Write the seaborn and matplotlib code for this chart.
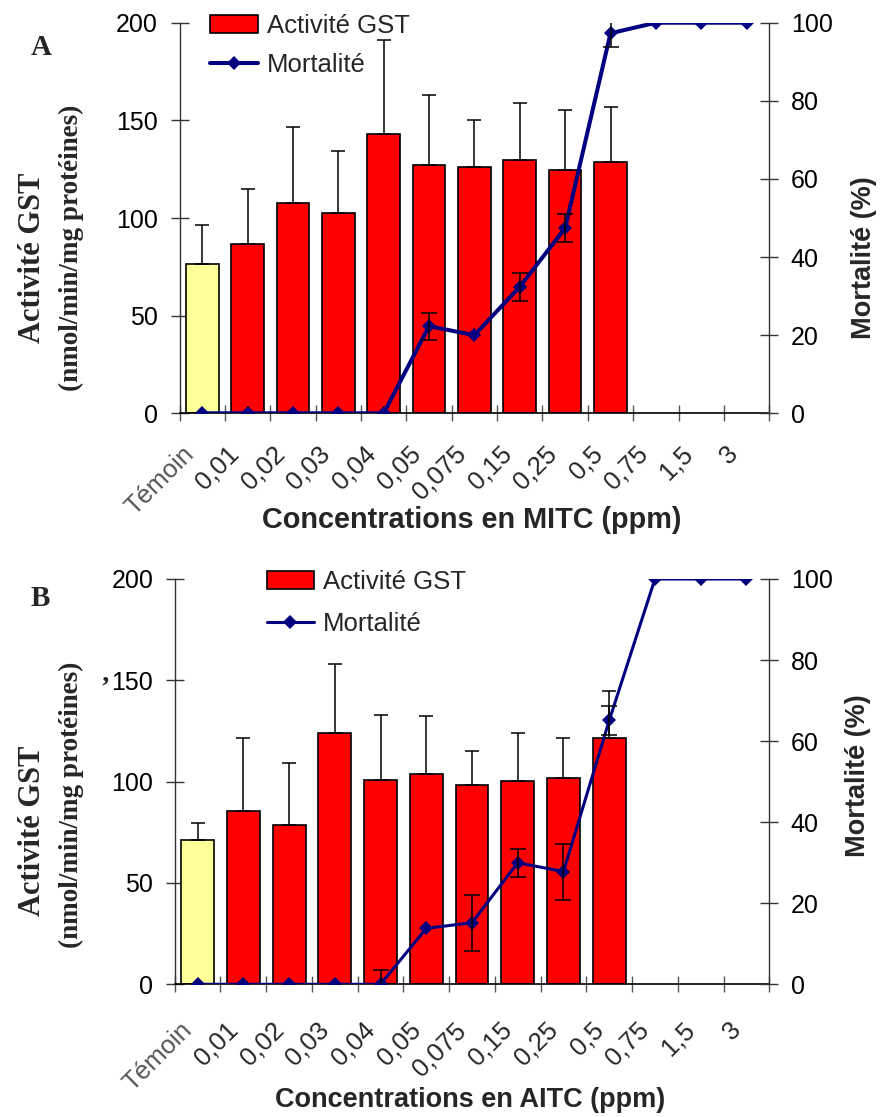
import numpy as np
import pandas as pd
import matplotlib
matplotlib.use('Agg')
import matplotlib.pyplot as plt
import matplotlib.transforms as mtrans
from matplotlib.patches import Patch
from matplotlib.lines import Line2D
import seaborn as sns

# ---------------- data ----------------
categories = ['Témoin', '0,01', '0,02', '0,03', '0,04', '0,05', '0,075',
              '0,15', '0,25', '0,5', '0,75', '1,5', '3']
bar_categories = categories[:10]

gst_mitc = [76.3, 86.8, 107.8, 102.7, 142.9, 127.3, 126.3, 129.7, 124.6, 128.9]
gst_mitc_err = [20.1, 28.2, 38.6, 31.4, 48.2, 35.8, 23.7, 29.0, 30.7, 28.1]
mort_mitc = [0, 0, 0, 0, 0, 22.3, 20.0, 32.4, 47.4, 97.3, 100, 100, 100]
mort_mitc_err = [0, 0, 0, 0, 0, 3.5, 0, 3.6, 3.5, 3.5, 0, 0, 0]

gst_aitc = [71.2, 85.6, 78.6, 124.1, 100.8, 103.6, 98.3, 100.1, 101.8, 121.4]
gst_aitc_err = [8.2, 35.8, 30.4, 33.9, 32.2, 28.8, 16.8, 24.0, 19.6, 23.2]
mort_aitc = [0, 0, 0, 0, 0, 13.8, 15.2, 30.0, 27.8, 65.1, 100, 100, 100]
mort_aitc_err = [0, 0, 0, 0, 3.5, 0, 6.9, 3.5, 6.9, 3.5, 0, 0, 0]

left_ticks = [0, 50, 100, 150, 200]
right_ticks = [0, 20, 40, 60, 80, 100]

RED = '#FF0000'
YELLOW = '#FFFF99'
NAVY = '#000080'

sns.set_theme(style='white')
plt.rcParams['font.family'] = ['Liberation Sans', 'DejaVu Sans']

W, H = 882, 1117
fig = plt.figure(figsize=(W / 100, H / 100), dpi=100)


def fx(px):
    return px / W


def fy(py):
    return 1 - py / H


def panel(rect, gst, gst_err, mort, mort_err, xtitle, letter, cfg):
    l, t, r, b = rect
    ax = fig.add_axes([fx(l), fy(b), fx(r - l), (b - t) / H])
    df = pd.DataFrame({'cat': bar_categories, 'gst': gst})
    palette = {c: (YELLOW if i == 0 else RED) for i, c in enumerate(bar_categories)}
    sns.barplot(data=df, x='cat', y='gst', hue='cat', palette=palette,
                order=categories, hue_order=bar_categories, dodge=False,
                width=0.72, edgecolor='black', linewidth=1.2, saturation=1,
                errorbar=None, legend=False, ax=ax, zorder=2)
    xb = np.arange(len(gst))
    ax.errorbar(xb, gst, yerr=[np.zeros(len(gst)), gst_err], fmt='none',
                ecolor='black', elinewidth=1.1, capsize=5, capthick=1.1, zorder=3)

    ax2 = ax.twinx()
    sns.pointplot(x=categories, y=mort, order=categories, color=NAVY,
                  markers='D', linestyles='-', errorbar=None, ax=ax2)
    for ln in ax2.lines:
        ln.set_linewidth(cfg['lw'])
        ln.set_markersize(cfg['ms'])
        ln.set_markeredgewidth(0)
        ln.set_zorder(3)
    xm = np.arange(len(mort))
    me = np.array(mort_err)
    sel = me > 0
    ax2.errorbar(xm[sel], np.array(mort)[sel], yerr=me[sel], fmt='none',
                 ecolor='black', elinewidth=1.1, capsize=5.5, capthick=1.1, zorder=4)

    for a in (ax, ax2):
        a.set_xlabel('')
        a.set_ylabel('')
        a.grid(False)
    ax.set_ylim(0, 200)
    ax2.set_ylim(0, 100)
    ax.set_xlim(-0.5, len(categories) - 0.5)

    # spines
    ax.spines['top'].set_visible(False)
    ax.spines['right'].set_visible(False)
    ax2.spines['top'].set_visible(False)
    ax2.spines['left'].set_visible(False)
    ax2.spines['bottom'].set_visible(False)
    ax.spines['left'].set_color('#333333')
    ax.spines['left'].set_linewidth(1)
    ax2.spines['right'].set_color('#333333')
    ax2.spines['right'].set_linewidth(1)
    ax.spines['bottom'].set_color('black')
    ax.spines['bottom'].set_linewidth(1.2)

    # y ticks
    ax.set_yticks(left_ticks)
    ax.set_yticklabels([str(v) for v in left_ticks])
    ax2.set_yticks(right_ticks)
    ax2.set_yticklabels([str(v) for v in right_ticks])
    ax.tick_params(axis='y', left=True, direction='inout', length=13, width=1,
                   color='#333333', labelsize=18, pad=9, labelcolor='black')
    ax2.tick_params(axis='y', right=True, direction='inout', length=13, width=1,
                    color='#333333', labelsize=18, pad=9, labelcolor='black')

    # x ticks: marks at boundaries, labels at centres
    ax.set_xticks(np.arange(-0.5, len(categories), 1))
    ax.set_xticklabels([''] * (len(categories) + 1))
    ax.set_xticks(np.arange(len(categories)), minor=True)
    ax.set_xticklabels(categories, minor=True, rotation=45, ha='right',
                       rotation_mode='anchor', fontsize=18.5)
    ax.tick_params(axis='x', which='major', bottom=True, direction='inout',
                   length=12, width=1, color='#555555')
    ax.tick_params(axis='x', which='minor', bottom=True, length=0,
                   pad=cfg['xpad'])
    off = mtrans.ScaledTranslation(cfg['xdx'] / 100, 0, fig.dpi_scale_trans)
    for i, lbl in enumerate(ax.get_xticklabels(minor=True)):
        lbl.set_va('center')
        lbl.set_transform(lbl.get_transform() + off)
        if i == 0:
            lbl.set_color('#555555')

    # legend
    handles = [Patch(facecolor=RED, edgecolor='black', linewidth=1.2),
               Line2D([], [], color=NAVY, lw=cfg['lw'], marker='D',
                      markersize=cfg['ms'], markeredgewidth=0)]
    ax2.legend(handles, ['Activité GST', 'Mortalité'], loc='upper left',
               bbox_to_anchor=cfg['leg'], bbox_transform=ax.transAxes,
               frameon=False, fontsize=18.5, handlelength=1.85,
               handletextpad=0.35, labelspacing=cfg['ls'], borderpad=0,
               borderaxespad=0)

    # axis titles
    fig.text(fx(cfg['xt_x']), fy(cfg['xt_y']), xtitle, ha='center',
             va='baseline', fontsize=cfg['xt_fs'], fontweight='bold')
    fig.text(fx(33), fy(cfg['yl1_y']), 'Activité GST', rotation=90,
             ha='center', va='center', fontsize=22, fontweight='bold',
             family='Liberation Serif')
    fig.text(fx(71), fy(cfg['yl2_y']), '(nmol/min/mg protéines)', rotation=90,
             ha='center', va='center', fontsize=19.5, fontweight='bold',
             family='Liberation Serif')
    fig.text(fx(cfg['yr_x']), fy(cfg['yr_y']), 'Mortalité (%)', rotation=90,
             ha='center', va='center', fontsize=19.5, fontweight='bold')
    fig.text(fx(cfg['let'][0]), fy(cfg['let'][1]), letter, ha='center',
             va='center', fontsize=21, fontweight='bold',
             family='Liberation Serif')
    return ax, ax2


panel((179.5, 22.7, 769.3, 413.3), gst_mitc, gst_mitc_err, mort_mitc,
      mort_mitc_err, 'Concentrations en MITC (ppm)', 'A',
      dict(lw=2.9, ms=7.5, xpad=26.5, xdx=-12, leg=(0.052, 1.023), ls=0.6,
           xt_x=472, xt_y=528.5, xt_fs=20.8, yl1_y=257.5, yl2_y=247.5,
           yr_x=864, yr_y=258, let=(41, 47.5)))

panel((174.7, 579.0, 769.3, 984.3), gst_aitc, gst_aitc_err, mort_aitc,
      mort_aitc_err, 'Concentrations en AITC (ppm)', 'B',
      dict(lw=2.2, ms=7, xpad=30.3, xdx=-9.5, leg=(0.1546, 1.022), ls=0.68,
           xt_x=470, xt_y=1107, xt_fs=19.5, yl1_y=831, yl2_y=805,
           yr_x=858, yr_y=776, let=(40.5, 599)))

fig.text(fx(105), fy(688), '\u2019', ha='center', va='center', fontsize=20,
         fontweight='bold', family='Liberation Serif')

fig.savefig('out.png', dpi=100)
